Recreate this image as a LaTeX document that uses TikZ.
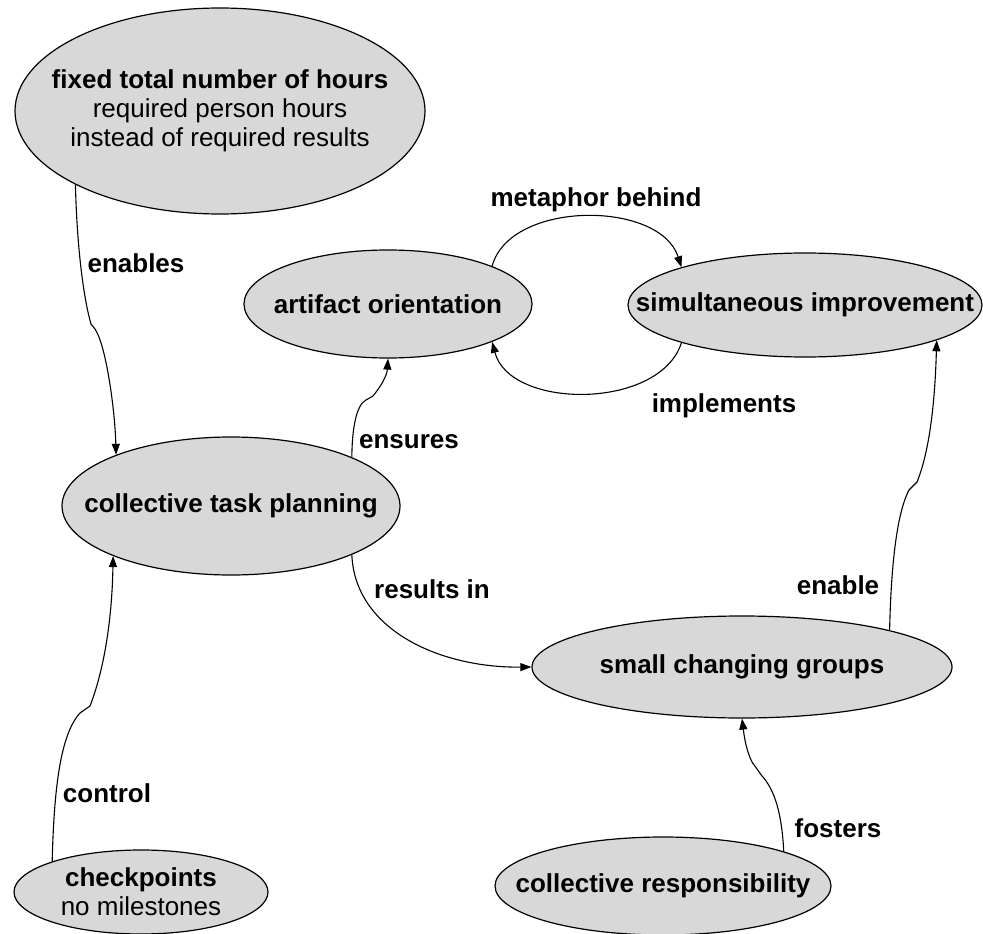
\documentclass[tikz,border=0pt]{standalone}
\usepackage{fontspec}
\setmainfont{Liberation Sans}
\usetikzlibrary{shapes.geometric,arrows.meta}
\definecolor{nodefill}{RGB}{216,216,216}
\tikzset{
  concept/.style={ellipse, draw=black, line width=1.2pt, fill=nodefill, inner sep=-60pt,
    align=center, font=\fontsize{26}{29}\selectfont\bfseries},
  link/.style={draw=black, line width=1.1pt, -{Triangle[length=11pt,width=8pt]}},
  lbl/.style={font=\fontsize{26}{29}\selectfont\bfseries, inner sep=0pt}
}
\begin{document}
\begin{tikzpicture}[x=1pt,y=-1pt]
\clip (0,0) rectangle (983,934);
\fill[white] (0,0) rectangle (983,934);

\node[concept, minimum width=410pt, minimum height=206pt] (fixed) at (220,111)
  {fixed total number of hours\\{\mdseries required person hours}\\{\mdseries instead of required results}};
\node[concept, minimum width=288pt, minimum height=108pt] (art) at (388,304) {artifact orientation};
\node[concept, minimum width=354pt, minimum height=104pt] (simul) at (805,305) {simultaneous improvement};
\node[concept, minimum width=338pt, minimum height=138pt] (ctp) at (231,506) {collective task planning};
\node[concept, minimum width=420pt, minimum height=102pt] (scg) at (742,667) {small changing groups};
\node[concept, minimum width=254pt, minimum height=84pt] (chk) at (141,892) {checkpoints\\{\mdseries no milestones}};
\node[concept, minimum width=336pt, minimum height=98pt] (resp) at (663,886) {collective responsibility};

% enables
\draw[link] (fixed.207) .. controls (77,250) and (84,300) .. (91,324)
  -- (95,329) .. controls (106,345) and (115,410) .. (ctp.156);
% control
\draw[link] (chk.161) .. controls (54,790) and (60,735) .. (80,713)
  -- (90,706) .. controls (104,670) and (112,620) .. (ctp.203);
% ensures
\draw[link] (ctp.22) .. controls (352,430) and (356,405) .. (366,400)
  -- (373,396) .. controls (382,385) and (387,375) .. (art.-90);
% metaphor behind
\draw[link] (art.20) .. controls (510,200) and (660,200) .. (simul.163);
% implements
\draw[link] (simul.-163) .. controls (660,410) and (510,410) .. (art.-20);
% results in
\draw[link] (ctp.-22) .. controls (355,630) and (440,668) .. (scg.west);
% enable
\draw[link] (scg.14) .. controls (891,570) and (896,515) .. (909,490)
  -- (917,482) .. controls (930,450) and (935,400) .. (simul.-15);
% fosters
\draw[link] (resp.16) .. controls (782,815) and (775,790) .. (762,776)
  -- (752,762) .. controls (746,750) and (744,735) .. (scg.-90);

\node[lbl] (l1) at (136,263) {enables};
\node[lbl] (l2) at (409,442) {ensures};
\node[lbl] (l3) at (596,200) {metaphor behind};
\node[lbl] (l4) at (724,406) {implements};
\node[lbl] (l5) at (432,589) {results in};
\node[lbl] (l6) at (838,585) {enable};
\node[lbl] (l7) at (107,793) {control};
\node[lbl] (l8) at (838,828) {fosters};
\end{tikzpicture}
\end{document}
